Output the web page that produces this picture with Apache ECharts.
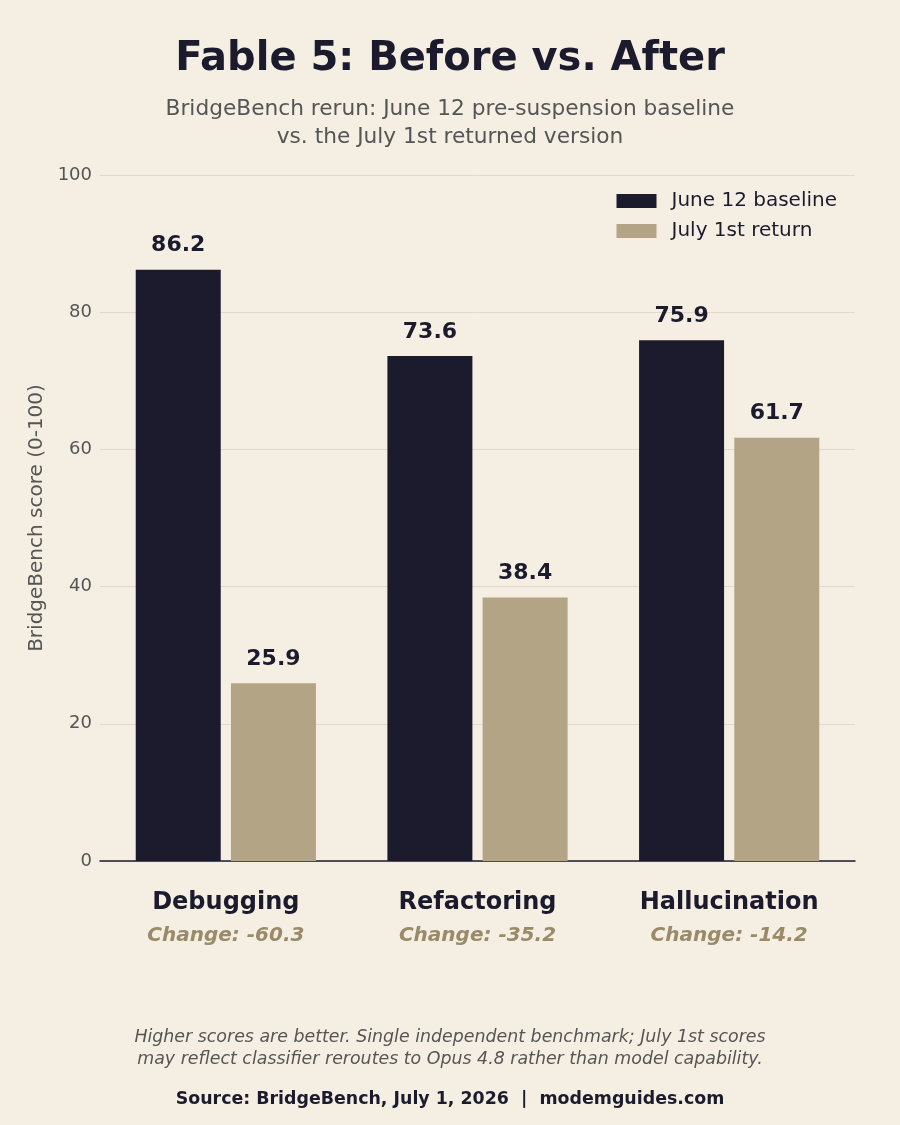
<!DOCTYPE html>
<html>
<head>
<meta charset="utf-8">
<script src="https://cdn.jsdelivr.net/npm/echarts@6/dist/echarts.min.js"></script>
<style>
html,body{margin:0;padding:0;background:#f5efe3;}
#chart{width:900px;height:1125px;}
</style>
</head>
<body>
<div id="chart"></div>
<script>
const categories = ['Debugging', 'Refactoring', 'Hallucination'];
const baseline = [86.2, 73.6, 75.9];
const returned = [25.9, 38.4, 61.7];
const changes = ['-60.3', '-35.2', '-14.2'];
const seriesNames = ['June 12 baseline', 'July 1st return'];
const yTicks = { min: 0, max: 100, interval: 20 };

const DARK = '#1c1b2e';
const TAN = '#b3a486';
const FONT = 'DejaVu Sans';

const chart = echarts.init(document.getElementById('chart'));
chart.setOption({
  backgroundColor: '#f5efe3',
  animation: false,
  textStyle: { fontFamily: FONT },
  title: [{
    text: 'Fable 5: Before vs. After',
    left: 'center', top: 35,
    textStyle: { fontFamily: FONT, fontSize: 40, fontWeight: 'bold', color: DARK }
  }],
  legend: {
    orient: 'vertical',
    right: 58, top: 186,
    itemWidth: 40, itemHeight: 14,
    itemGap: 10,
    icon: 'rect',
    textStyle: { fontFamily: FONT, fontSize: 20, color: DARK, lineHeight: 20, padding: [0, 0, 0, 10] },
    data: seriesNames
  },
  grid: { left: 100, right: 45, top: 175, bottom: 264, containLabel: false },
  xAxis: {
    type: 'category',
    data: categories,
    axisLine: { lineStyle: { color: DARK, width: 1.5 } },
    axisTick: { show: false },
    axisLabel: {
      margin: 25,
      interval: 0,
      formatter: function (v, i) {
        return '{c|' + v + '}\n{d|Change: ' + changes[i] + '}';
      },
      rich: {
        c: { fontFamily: FONT, fontSize: 24, fontWeight: 'bold', color: DARK, lineHeight: 34 },
        d: { fontFamily: FONT, fontSize: 20, fontWeight: 'bold', fontStyle: 'italic', color: '#9a8a68', lineHeight: 32 }
      }
    }
  },
  yAxis: {
    type: 'value',
    min: yTicks.min, max: yTicks.max, interval: yTicks.interval,
    name: 'BridgeBench score (0-100)',
    nameLocation: 'middle',
    nameGap: 52,
    nameTextStyle: { fontFamily: FONT, fontSize: 20, color: '#555555' },
    axisLine: { show: false },
    axisTick: { show: false },
    axisLabel: { fontFamily: FONT, fontSize: 18, color: '#555555', margin: 8 },
    splitLine: { lineStyle: { color: '#e3dac6', width: 1 } }
  },
  series: [{
    name: seriesNames[0],
    type: 'bar',
    data: baseline,
    barWidth: 85,
    barGap: '12%',
    itemStyle: { color: DARK },
    label: {
      show: true, position: 'top', distance: 13,
      fontFamily: FONT, fontSize: 22, fontWeight: 'bold', color: DARK,
      formatter: p => p.value.toFixed(1)
    }
  }, {
    name: seriesNames[1],
    type: 'bar',
    data: returned,
    barWidth: 85,
    itemStyle: { color: TAN },
    label: {
      show: true, position: 'top', distance: 13,
      fontFamily: FONT, fontSize: 22, fontWeight: 'bold', color: DARK,
      formatter: p => p.value.toFixed(1)
    }
  }],
  graphic: [{
    type: 'text', x: 450, y: 95,
    style: {
      text: 'BridgeBench rerun: June 12 pre-suspension baseline\nvs. the July 1st returned version',
      fontFamily: FONT, fontSize: 21.7, fill: '#555555',
      lineHeight: 28, align: 'center', verticalAlign: 'top'
    }
  }, {
    type: 'text', x: 450, y: 1026,
    style: {
      text: 'Higher scores are better. Single independent benchmark; July 1st scores\nmay reflect classifier reroutes to Opus 4.8 rather than model capability.',
      fontFamily: FONT, fontSize: 17.4, fontStyle: 'italic', fill: '#555555',
      lineHeight: 22, align: 'center', verticalAlign: 'top'
    }
  }, {
    type: 'text', x: 450, y: 1091,
    style: {
      text: 'Source: BridgeBench, July 1, 2026  |  modemguides.com',
      fontFamily: FONT, fontSize: 17.4, fontWeight: 'bold', fill: DARK,
      align: 'center', verticalAlign: 'top'
    }
  }]
});
</script>
</body>
</html>
